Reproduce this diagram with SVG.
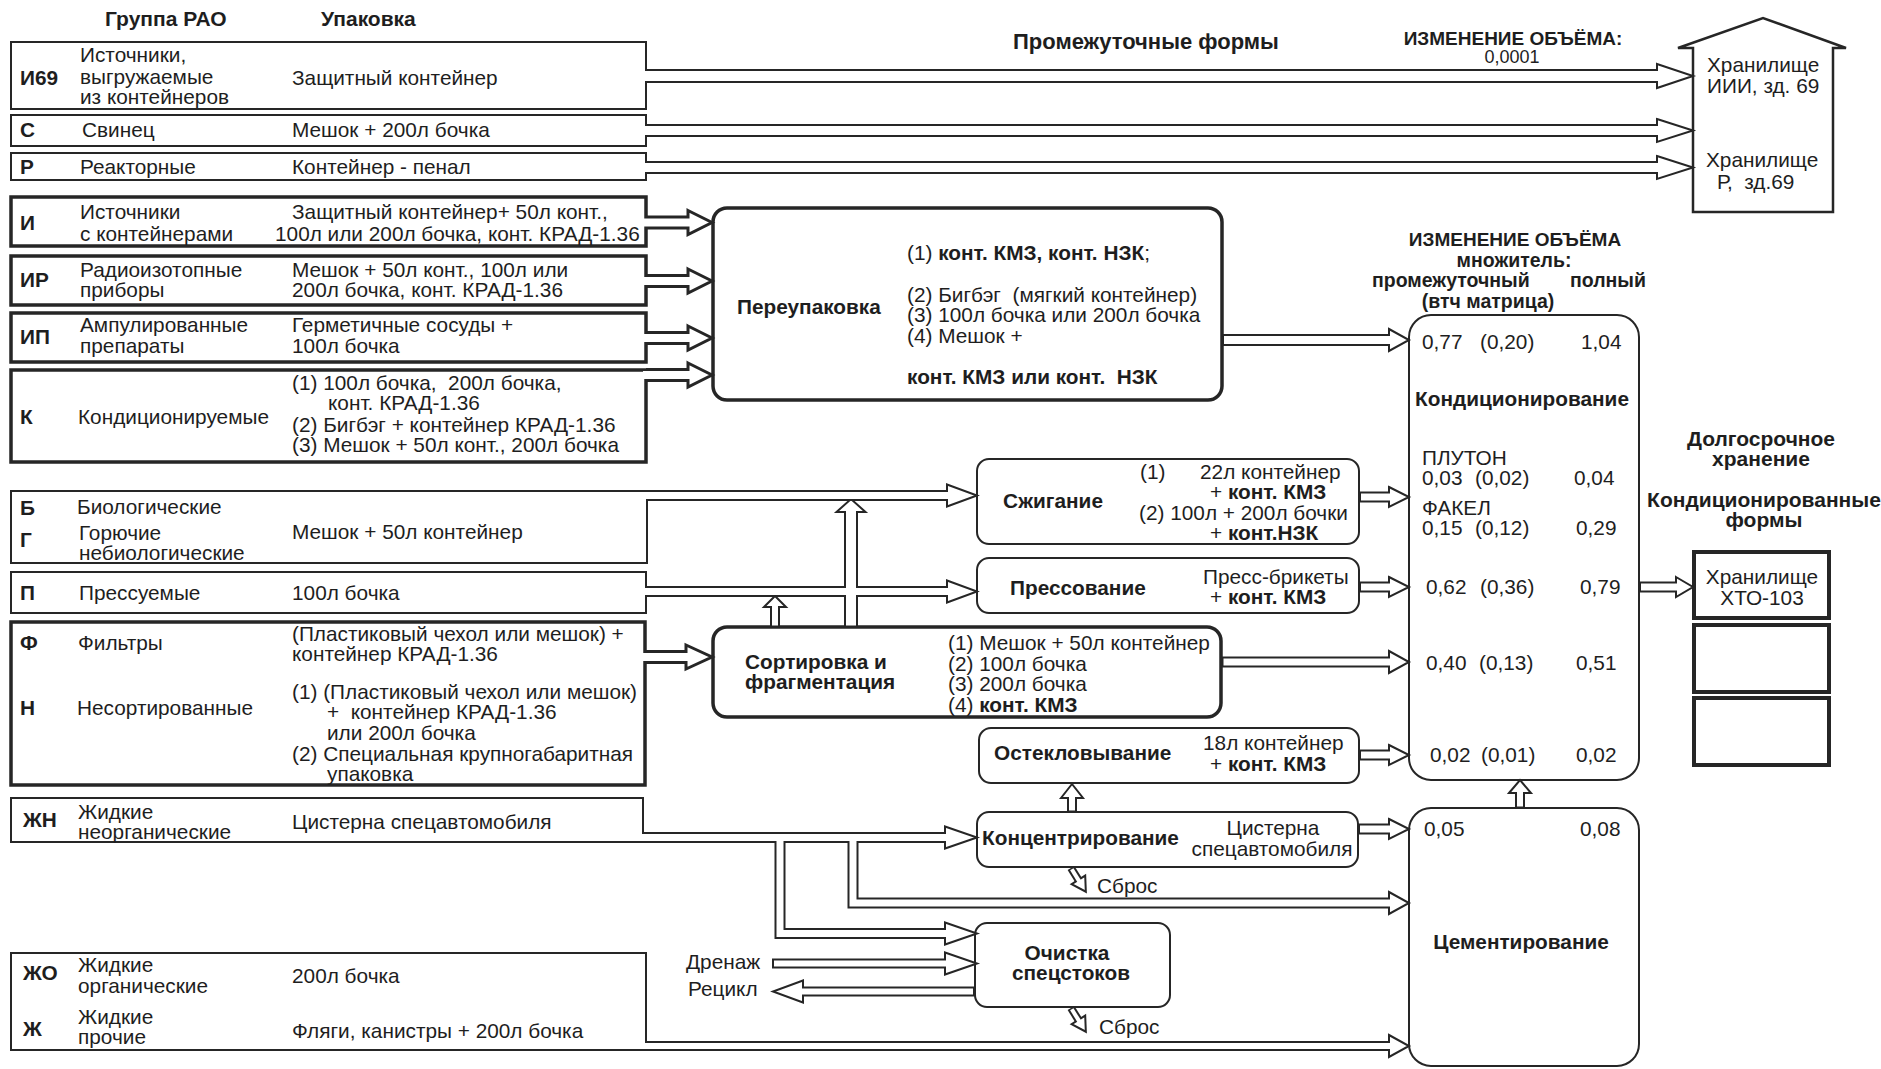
<svg xmlns="http://www.w3.org/2000/svg" width="1881" height="1069" viewBox="0 0 1881 1069">
<style>
text{font-family:"Liberation Sans",Arial,sans-serif;font-size:20.8px;fill:#1e1e1e}
.b{font-weight:bold}
.h{font-weight:bold;font-size:21px}
.c{font-weight:bold;font-size:19px}
.m{text-anchor:middle}
.bx{fill:#fff;stroke:#262626;stroke-width:2}
.bk{fill:#fff;stroke:#262626;stroke-width:3.5}
.hd{fill:#fff;stroke:#262626;stroke-width:2;stroke-linejoin:miter}
.hk{fill:#fff;stroke:#262626;stroke-width:3;stroke-linejoin:miter}
.d,.w{fill:none;stroke-linejoin:miter;stroke-linecap:butt}
.d{stroke:#262626}
.w{stroke:#fff}
.d.g12{stroke-width:14}.w.g12{stroke-width:10}
.d.g11{stroke-width:13}.w.g11{stroke-width:9}
.d.g10{stroke-width:12}.w.g10{stroke-width:8}
.d.g9{stroke-width:11}.w.g9{stroke-width:7}
.d.g8{stroke-width:10}.w.g8{stroke-width:6}
.d.k11{stroke-width:14}.w.k11{stroke-width:8}
.d.g6{stroke-width:8}.w.g6{stroke-width:4}
</style>
<rect width="1881" height="1069" fill="#fff"/>

<g id="headers">
<text class="h" x="105" y="26">Группа РАО</text>
<text class="h" x="321" y="26">Упаковка</text>
<text class="h" x="1013" y="49" style="font-size:22px">Промежуточные формы</text>
<text class="c m" x="1513" y="45">ИЗМЕНЕНИЕ ОБЪЁМА:</text>
<text class="m" x="1512" y="63" style="font-size:18px">0,0001</text>
<text class="c m" x="1515" y="246">ИЗМЕНЕНИЕ ОБЪЁМА</text>
<text class="h m" x="1514" y="267" style="font-size:19.5px">множитель:</text>
<text class="h" x="1372" y="287" style="font-size:19.5px">промежуточный</text>
<text class="h" x="1570" y="287" style="font-size:19.5px">полный</text>
<text class="h m" x="1488" y="308" style="font-size:19.5px">(втч матрица)</text>
<text class="h m" x="1761" y="446">Долгосрочное</text>
<text class="h m" x="1761" y="466">хранение</text>
<text class="h m" x="1764" y="507">Кондиционированные</text>
<text class="h m" x="1764" y="527">формы</text>
</g>

<g id="n-i69">
<rect class="bx" x="11" y="42" width="635" height="67"/>
<text class="b" x="20" y="85">И69</text>
<text x="80" y="62">Источники,</text>
<text x="80" y="84">выгружаемые</text>
<text x="80" y="104">из контейнеров</text>
<text x="292" y="85">Защитный контейнер</text>
</g>
<g id="n-s">
<rect class="bx" x="11" y="115" width="635" height="31"/>
<text class="b" x="20" y="137">С</text>
<text x="82" y="137">Свинец</text>
<text x="292" y="137">Мешок + 200л бочка</text>
</g>
<g id="n-r">
<rect class="bx" x="11" y="153" width="635" height="27"/>
<text class="b" x="20" y="174">Р</text>
<text x="80" y="174">Реакторные</text>
<text x="292" y="174">Контейнер - пенал</text>
</g>
<g id="n-i">
<rect class="bk" x="11" y="197" width="635" height="49"/>
<text class="b" x="20" y="230">И</text>
<text x="80" y="219">Источники</text>
<text x="80" y="241">с контейнерами</text>
<text x="292" y="219">Защитный контейнер+ 50л конт.,</text>
<text x="275" y="241">100л или 200л бочка, конт. КРАД-1.36</text>
</g>
<g id="n-ir">
<rect class="bk" x="11" y="256" width="635" height="49"/>
<text class="b" x="20" y="287">ИР</text>
<text x="80" y="277">Радиоизотопные</text>
<text x="80" y="297">приборы</text>
<text x="292" y="277">Мешок + 50л конт., 100л или</text>
<text x="292" y="297">200л бочка, конт. КРАД-1.36</text>
</g>
<g id="n-ip">
<rect class="bk" x="11" y="313" width="635" height="49"/>
<text class="b" x="20" y="344">ИП</text>
<text x="80" y="332">Ампулированные</text>
<text x="80" y="353">препараты</text>
<text x="292" y="332">Герметичные сосуды +</text>
<text x="292" y="353">100л бочка</text>
</g>
<g id="n-k">
<rect class="bk" x="11" y="370" width="635" height="92"/>
<text class="b" x="20" y="424">К</text>
<text x="78" y="424">Кондиционируемые</text>
<text x="292" y="390" xml:space="preserve">(1) 100л бочка,  200л бочка,</text>
<text x="328" y="410">конт. КРАД-1.36</text>
<text x="292" y="432">(2) Бигбэг + контейнер КРАД-1.36</text>
<text x="292" y="452">(3) Мешок + 50л конт., 200л бочка</text>
</g>
<g id="n-bg">
<rect class="bx" x="11" y="491" width="636" height="72"/>
<text class="b" x="20" y="515">Б</text>
<text x="77" y="514">Биологические</text>
<text class="b" x="20" y="547">Г</text>
<text x="79" y="540">Горючие</text>
<text x="79" y="560">небиологические</text>
<text x="292" y="539">Мешок + 50л контейнер</text>
</g>
<g id="n-p">
<rect class="bx" x="11" y="572" width="635" height="41"/>
<text class="b" x="20" y="600">П</text>
<text x="79" y="600">Прессуемые</text>
<text x="292" y="600">100л бочка</text>
</g>
<g id="n-fn">
<rect class="bk" x="11" y="622" width="634" height="163"/>
<text class="b" x="20" y="650">Ф</text>
<text x="78" y="650">Фильтры</text>
<text x="292" y="641">(Пластиковый чехол или мешок) +</text>
<text x="292" y="661">контейнер КРАД-1.36</text>
<text class="b" x="20" y="715">Н</text>
<text x="77" y="715">Несортированные</text>
<text x="292" y="699">(1) (Пластиковый чехол или мешок)</text>
<text x="327" y="719" xml:space="preserve">+  контейнер КРАД-1.36</text>
<text x="327" y="740">или 200л бочка</text>
<text x="292" y="761">(2) Специальная крупногабаритная</text>
<text x="327" y="781">упаковка</text>
</g>
<g id="n-zhn">
<rect class="bx" x="11" y="798" width="632" height="44"/>
<text class="b" x="23" y="827">ЖН</text>
<text x="78" y="819">Жидкие</text>
<text x="78" y="839">неорганические</text>
<text x="292" y="829">Цистерна спецавтомобиля</text>
</g>
<g id="n-zho">
<rect class="bx" x="11" y="953" width="635" height="97"/>
<text class="b" x="23" y="980">ЖО</text>
<text x="78" y="972">Жидкие</text>
<text x="78" y="993">органические</text>
<text x="292" y="983">200л бочка</text>
<text class="b" x="23" y="1036">Ж</text>
<text x="78" y="1024">Жидкие</text>
<text x="78" y="1044">прочие</text>
<text x="292" y="1038">Фляги, канистры + 200л бочка</text>
</g>

<g id="n-repack">
<rect class="bk" x="713" y="208" width="509" height="192" rx="14"/>
<text class="b" x="737" y="314">Переупаковка</text>
<text x="907" y="260">(1) <tspan class="b">конт. КМЗ, конт. НЗК</tspan>;</text>
<text x="907" y="302" xml:space="preserve">(2) Бигбэг  (мягкий контейнер)</text>
<text x="907" y="322">(3) 100л бочка или 200л бочка</text>
<text x="907" y="343">(4) Мешок +</text>
<text class="b" x="907" y="384" xml:space="preserve">конт. КМЗ или конт.  НЗК</text>
</g>
<g id="n-burn">
<rect class="bx" x="977" y="459" width="382" height="85" rx="12"/>
<text class="b" x="1003" y="508">Сжигание</text>
<text x="1140" y="479">(1)</text>
<text x="1200" y="479">22л контейнер</text>
<text x="1210" y="499">+ <tspan class="b">конт. КМЗ</tspan></text>
<text x="1139" y="520">(2) 100л + 200л бочки</text>
<text x="1210" y="540">+ <tspan class="b">конт.НЗК</tspan></text>
</g>
<g id="n-press">
<rect class="bx" x="977" y="558" width="382" height="55" rx="12"/>
<text class="b" x="1010" y="595">Прессование</text>
<text x="1203" y="584">Пресс-брикеты</text>
<text x="1210" y="604">+ <tspan class="b">конт. КМЗ</tspan></text>
</g>
<g id="n-sort">
<rect class="bk" x="713" y="627" width="508" height="90" rx="14"/>
<text class="b" x="745" y="669">Сортировка и</text>
<text class="b" x="745" y="689">фрагментация</text>
<text x="948" y="650">(1) Мешок + 50л контейнер</text>
<text x="948" y="671">(2) 100л бочка</text>
<text x="948" y="691">(3) 200л бочка</text>
<text x="948" y="712">(4) <tspan class="b">конт. КМЗ</tspan></text>
</g>
<g id="n-vitr">
<rect class="bx" x="979" y="728" width="380" height="55" rx="12"/>
<text class="b" x="994" y="760">Остекловывание</text>
<text x="1203" y="750">18л контейнер</text>
<text x="1210" y="771">+ <tspan class="b">конт. КМЗ</tspan></text>
</g>
<g id="n-conc">
<rect class="bx" x="977" y="812" width="381" height="55" rx="12"/>
<text class="b" x="982" y="845">Концентрирование</text>
<text class="m" x="1273" y="835">Цистерна</text>
<text class="m" x="1272" y="856">спецавтомобиля</text>
</g>
<g id="n-clean">
<rect class="bx" x="975" y="923" width="195" height="84" rx="12"/>
<text class="b m" x="1067" y="960">Очистка</text>
<text class="b m" x="1071" y="980">спецстоков</text>
</g>
<g id="n-cond">
<rect class="bx" x="1409" y="315" width="230" height="465" rx="22"/>
<text x="1422" y="349">0,77</text><text x="1480" y="349">(0,20)</text><text x="1581" y="349">1,04</text>
<text class="b" x="1415" y="406">Кондиционирование</text>
<text x="1422" y="465">ПЛУТОН</text>
<text x="1422" y="485">0,03</text><text x="1475" y="485">(0,02)</text><text x="1574" y="485">0,04</text>
<text x="1422" y="515">ФАКЕЛ</text>
<text x="1422" y="535">0,15</text><text x="1475" y="535">(0,12)</text><text x="1576" y="535">0,29</text>
<text x="1426" y="594">0,62</text><text x="1480" y="594">(0,36)</text><text x="1580" y="594">0,79</text>
<text x="1426" y="670">0,40</text><text x="1479" y="670">(0,13)</text><text x="1576" y="670">0,51</text>
<text x="1430" y="762">0,02</text><text x="1481" y="762">(0,01)</text><text x="1576" y="762">0,02</text>
</g>
<g id="n-cem">
<rect class="bx" x="1409" y="808" width="230" height="258" rx="22"/>
<text x="1424" y="836">0,05</text><text x="1580" y="836">0,08</text>
<text class="b m" x="1521" y="949">Цементирование</text>
</g>
<g id="n-house">
<polygon points="1693,212 1693,48 1678,48 1763,18 1846,48 1833,48 1833,212" fill="#fff" stroke="#262626" stroke-width="2.5" stroke-linejoin="miter"/>
<text x="1707" y="72">Хранилище</text>
<text x="1707" y="93">ИИИ, зд. 69</text>
<text x="1706" y="167">Хранилище</text>
<text x="1717" y="189" xml:space="preserve">Р,  зд.69</text>
</g>
<g id="n-hto">
<rect x="1694" y="552" width="135" height="66" fill="#fff" stroke="#262626" stroke-width="4"/>
<text class="m" x="1762" y="584">Хранилище</text>
<text class="m" x="1762" y="605">ХТО-103</text>
</g>
<g id="n-hto2"><rect x="1694" y="625" width="135" height="67" fill="#fff" stroke="#262626" stroke-width="4"/></g>
<g id="n-hto3"><rect x="1694" y="698" width="135" height="67" fill="#fff" stroke="#262626" stroke-width="4"/></g>

<g id="labels">
<text x="686" y="969">Дренаж</text>
<text x="688" y="996">Рецикл</text>
<text x="1097" y="893">Сброс</text>
<text x="1099" y="1034">Сброс</text>
</g>

<g id="connectors">
<g id="heads">
<polygon class="hd" points="1657,64 1693,76 1657,88"/>
<polygon class="hd" points="1657,119 1693,130.5 1657,142"/>
<polygon class="hd" points="1657,156 1693,167.5 1657,179"/>
<polygon class="hk" points="688,210.5 712,222.5 688,234.5"/>
<polygon class="hk" points="688,269 712,281 688,293"/>
<polygon class="hk" points="688,326 712,338 688,350"/>
<polygon class="hk" points="688,363 712,375 688,387"/>
<polygon class="hd" points="1389,329 1409,340 1389,351"/>
<polygon class="hd" points="947,484.5 977,495.5 947,506.5"/>
<polygon class="hd" points="947,580.5 977,591.5 947,602.5"/>
<polygon class="hk" points="686,645 712,657 686,669"/>
<polygon class="hd" points="1389,651 1409,662 1389,673"/>
<polygon class="hd" points="1389,487 1409,497 1389,507"/>
<polygon class="hd" points="1389,577 1409,587 1389,597"/>
<polygon class="hd" points="1389,745 1409,755 1389,765"/>
<polygon class="hd" points="1389,819 1409,829 1389,839"/>
<polygon class="hd" points="1676,577 1693,587 1676,597"/>
<polygon class="hd" points="836.5,512 851,499 865.5,512"/>
<polygon class="hd" points="764,607 775,596 786,607"/>
<polygon class="hd" points="1061,798 1072,784 1083,798"/>
<polygon class="hd" points="1509,793 1520,780 1531,793"/>
<polygon class="hd" points="945,826.5 977,837.5 945,848.5"/>
<polygon class="hd" points="945,922.5 977,933.5 945,944.5"/>
<polygon class="hd" points="1389,892 1409,903 1389,914"/>
<polygon class="hd" points="1389,1035 1409,1046 1389,1057"/>
<polygon class="hd" points="945,952.5 977,963.5 945,974.5"/>
<polygon class="hd" points="803,980.5 773,991.5 803,1002.5"/>
<polygon class="hd" points="14,-8 28,0 14,8" transform="translate(1071,868) rotate(58)"/>
<polygon class="hd" points="14,-8 28,0 14,8" transform="translate(1071,1008) rotate(58)"/>
</g>
<g id="shafts-dark">
<path class="d g12" d="M646 76 H1657"/>
<path class="d g11" d="M646 130.5 H1657"/>
<path class="d g11" d="M646 167.5 H1657"/>
<path class="d k11" d="M646 222.5 H688"/>
<path class="d k11" d="M646 281 H688"/>
<path class="d k11" d="M646 338 H688"/>
<path class="d k11" d="M646 375 H688"/>
<path class="d g10" d="M1222 340 H1389"/>
<path class="d g9" d="M647 495.5 H947"/>
<path class="d g9" d="M646 591.5 H947"/>
<path class="d k11" d="M645 657 H686"/>
<path class="d g9" d="M1221 662 H1389"/>
<path class="d g9" d="M1359 497 H1389"/>
<path class="d g9" d="M1359 587 H1389"/>
<path class="d g9" d="M1359 755 H1389"/>
<path class="d g9" d="M1358 829 H1389"/>
<path class="d g9" d="M1639 587 H1676"/>
<path class="d g12" d="M851 627 V512"/>
<path class="d g8" d="M775 627 V607"/>
<path class="d g8" d="M1072 812 V798"/>
<path class="d g8" d="M1520 808 V793"/>
<path class="d g9" d="M643 837.5 H945"/>
<path class="d g9" d="M780 837.5 V933.5 H945"/>
<path class="d g9" d="M853 837.5 V903 H1389"/>
<path class="d g8" d="M646 1046 H1389"/>
<path class="d g8" d="M772 963.5 H945"/>
<path class="d g8" d="M975 991.5 H803"/>
<path class="d g6" d="M0 0 H14" transform="translate(1071,868) rotate(58)"/>
<path class="d g6" d="M0 0 H14" transform="translate(1071,1008) rotate(58)"/>
</g>
<g id="shafts-light">
<path class="w g12" d="M643.5 76 H1660"/>
<path class="w g11" d="M643.5 130.5 H1660"/>
<path class="w g11" d="M643.5 167.5 H1660"/>
<path class="w k11" d="M643 222.5 H691"/>
<path class="w k11" d="M643 281 H691"/>
<path class="w k11" d="M643 338 H691"/>
<path class="w k11" d="M643 375 H691"/>
<path class="w g10" d="M1224 340 H1392"/>
<path class="w g9" d="M644.5 495.5 H950"/>
<path class="w g9" d="M643.5 591.5 H950"/>
<path class="w k11" d="M642 657 H689"/>
<path class="w g9" d="M1223.5 662 H1392"/>
<path class="w g9" d="M1361 497 H1392"/>
<path class="w g9" d="M1361 587 H1392"/>
<path class="w g9" d="M1361 755 H1392"/>
<path class="w g9" d="M1360 829 H1392"/>
<path class="w g9" d="M1641 587 H1679"/>
<path class="w g12" d="M851 625.5 V509"/>
<path class="w g8" d="M775 625.5 V604"/>
<path class="w g8" d="M1072 810.5 V795"/>
<path class="w g8" d="M1520 806.5 V790"/>
<path class="w g9" d="M640.5 837.5 H948"/>
<path class="w g9" d="M780 837.5 V933.5 H948"/>
<path class="w g9" d="M853 837.5 V903 H1392"/>
<path class="w g8" d="M643.5 1046 H1392"/>
<path class="w g8" d="M774 963.5 H948"/>
<path class="w g8" d="M973 991.5 H800"/>
<path class="w g6" d="M1.5 0 H16" transform="translate(1071,868) rotate(58)"/>
<path class="w g6" d="M1.5 0 H16" transform="translate(1071,1008) rotate(58)"/>
</g>
</g>
</svg>
